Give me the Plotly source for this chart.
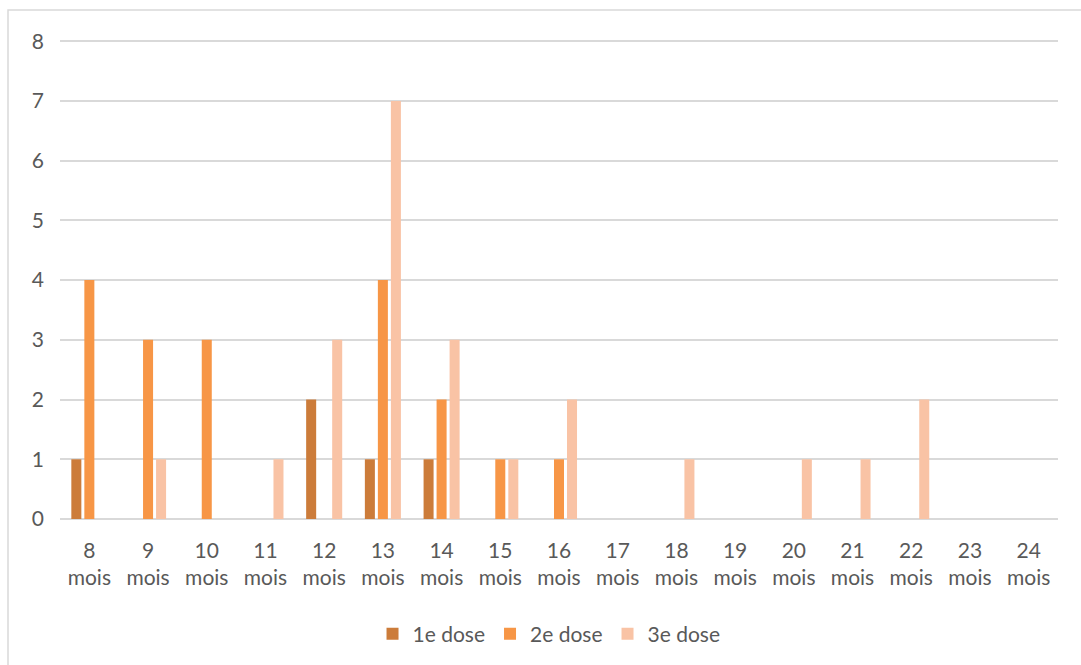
import plotly.graph_objects as go

# Age at vaccination (months) and number of children per dose
ages = ["8", "9", "10", "11", "12", "13", "14", "15", "16", "17",
        "18", "19", "20", "21", "22", "23", "24"]
dose1 = [1, 0, 0, 0, 2, 1, 1, 0, 0, 0, 0, 0, 0, 0, 0, 0, 0]
dose2 = [4, 3, 3, 0, 0, 4, 2, 1, 1, 0, 0, 0, 0, 0, 0, 0, 0]
dose3 = [0, 1, 0, 1, 3, 7, 3, 1, 2, 0, 1, 0, 1, 1, 2, 0, 0]
series_names = ["1e dose", "2e dose", "3e dose"]
series_colors = ["#CC7C3A", "#F79646", "#F9C3A5"]
y_ticks = [0, 1, 2, 3, 4, 5, 6, 7, 8]

tick_text = [f"{a}<br>mois" for a in ages]

fig = go.Figure()
for name, vals, color in zip(series_names, [dose1, dose2, dose3], series_colors):
    fig.add_trace(go.Bar(x=ages, y=vals, name=name, marker_color=color,
                         marker_line_width=0))

font_family = "Lato, 'Open Sans', sans-serif"
text_color = "#595959"
fsize = 21

fig.update_layout(
    width=1081, height=665,
    margin=dict(l=60, r=23, t=40, b=145),
    paper_bgcolor="white", plot_bgcolor="white",
    barmode="group", bargap=0.335, bargroupgap=0.23,
    font=dict(family=font_family, size=fsize, color=text_color),
    showlegend=True,
    legend=dict(orientation="h", x=0.49, xanchor="center", y=-0.2375,
                yanchor="middle", font=dict(size=fsize, color=text_color),
                itemwidth=30, traceorder="normal"),
    xaxis=dict(tickmode="array", tickvals=ages, ticktext=tick_text,
               showgrid=False, showline=False, ticks="",
               ticklabelstandoff=17,
               tickfont=dict(size=fsize, color=text_color)),
    yaxis=dict(range=[0, 8.02], tickvals=y_ticks, showgrid=True,
               gridcolor="#D9D9D9", gridwidth=1.5, zeroline=True,
               zerolinecolor="#D9D9D9", zerolinewidth=1.5,
               showline=False, ticks="", ticklabelstandoff=15,
               tickfont=dict(size=fsize, color=text_color)),
    shapes=[dict(type="rect", xref="paper", yref="paper",
                 x0=-0.0521, x1=1.05, y0=-0.32, y1=1.0625,
                 line=dict(color="#D9D9D9", width=1.5),
                 fillcolor="rgba(0,0,0,0)", layer="below")],
)

fig.write_html("out.html")
